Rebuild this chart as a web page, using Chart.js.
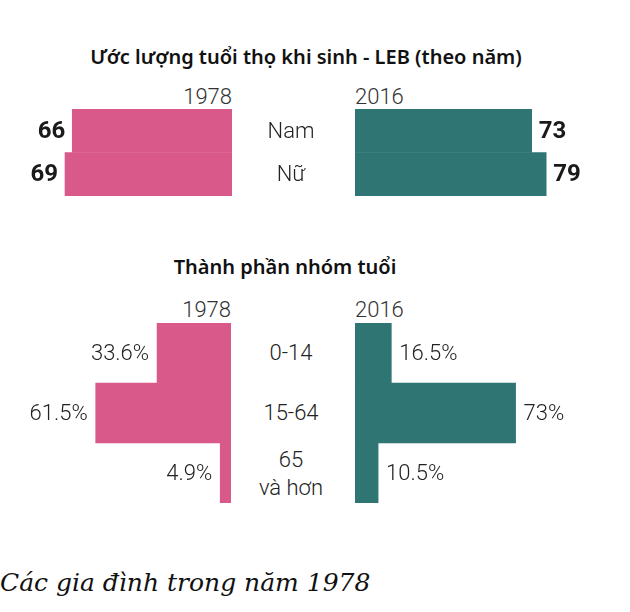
<!DOCTYPE html>
<html lang="vi">
<head>
    <meta charset="UTF-8">
    <title>Tuổi thọ và nhóm tuổi 1978 - 2016</title>
    <script src="https://cdn.jsdelivr.net/npm/chart.js"></script>
    <style>
        body { margin: 0; width: 630px; height: 612px; background: #fff; position: relative; overflow: hidden; font-family: Roboto, sans-serif; }
        canvas { position: absolute; }
        .txt { position: absolute; white-space: nowrap; transform: translateY(-50%); line-height: 1; }
        .title { font-family: "Noto Sans", sans-serif; font-weight: 600; font-size: 20px; color: #111; width: 630px; text-align: center; left: 0; }
        .year { font-weight: 300; font-size: 22px; color: #333; }
        .cat { font-weight: 300; font-size: 22px; color: #222; text-align: center; width: 120px; line-height: 1.25; }
        .note { font-family: "DejaVu Serif", serif; font-style: italic; font-size: 25px; color: #111; left: 0; }
    </style>
</head>
<body>
<div class="txt title" id="title1" style="top:57px; left:-9px;">Ước lượng tuổi thọ khi sinh - LEB (theo năm)</div>
<div class="txt title" id="title2" style="top:267px; left:-30px;">Thành phần nhóm tuổi</div>

<div class="txt year" style="top:97px; right:398px;">1978</div>
<div class="txt year" style="top:97px; left:355px;">2016</div>
<div class="txt year" style="top:310px; right:399px;">1978</div>
<div class="txt year" style="top:310px; left:355px;">2016</div>

<canvas id="leb1978" width="212" height="87" style="left:20px; top:109px;"></canvas>
<canvas id="leb2016" width="240" height="87" style="left:355px; top:109px;"></canvas>
<canvas id="age1978" width="221" height="180" style="left:10px; top:323px;"></canvas>
<canvas id="age2016" width="245" height="180" style="left:355px; top:323px;"></canvas>

<div class="txt note" style="top:582px;">Các gia đình trong năm 1978</div>

<script>
    // Tuổi thọ khi sinh (năm)
    const lebCategories = ['Nam', 'Nữ'];
    const leb1978 = [66, 69];
    const leb2016 = [73, 79];

    // Thành phần nhóm tuổi (%)
    const ageCategories = ['0-14', '15-64', '65\nvà hơn'];
    const age1978 = [33.6, 61.5, 4.9];
    const age2016 = [16.5, 73, 10.5];

    const pink = '#d95a8a';
    const teal = '#2e7573';

    // draws the value next to the end of each bar
    const valueLabels = {
        id: 'valueLabels',
        afterDatasetsDraw(chart, args, opts) {
            const ctx = chart.ctx;
            const meta = chart.getDatasetMeta(0);
            ctx.save();
            ctx.font = opts.font;
            ctx.fillStyle = opts.color;
            ctx.textBaseline = 'middle';
            meta.data.forEach((bar, i) => {
                const value = chart.data.datasets[0].data[i];
                const text = value + (opts.suffix || '');
                if (opts.side === 'left') {
                    ctx.textAlign = 'right';
                    ctx.fillText(text, bar.x - opts.gap, bar.y + 1);
                } else {
                    ctx.textAlign = 'left';
                    ctx.fillText(text, bar.x + opts.gap, bar.y + 1);
                }
            });
            ctx.restore();
        }
    };

    function makeChart(id, labels, values, color, reverse, xMax, labelOpts) {
        return new Chart(document.getElementById(id), {
            type: 'bar',
            data: {
                labels: labels,
                datasets: [{
                    data: values,
                    backgroundColor: color,
                    borderWidth: 0,
                    categoryPercentage: 1,
                    barPercentage: 1
                }]
            },
            options: {
                indexAxis: 'y',
                responsive: false,
                animation: false,
                layout: { padding: 0 },
                scales: {
                    x: { display: false, min: 0, max: xMax, reverse: reverse },
                    y: { display: false }
                },
                plugins: {
                    legend: { display: false },
                    tooltip: { enabled: false },
                    valueLabels: labelOpts
                }
            },
            plugins: [valueLabels]
        });
    }

    const boldFont = 'bold 24px Roboto';
    const lightFont = '300 22px Roboto';

    // 2.42 px per year, 2.2 px per percent
    makeChart('leb1978', lebCategories, leb1978, pink, true, 212 / 2.42,
        { side: 'left', gap: 7, font: boldFont, color: '#1a1a1a' });
    makeChart('leb2016', lebCategories, leb2016, teal, false, 240 / 2.42,
        { side: 'right', gap: 7, font: boldFont, color: '#1a1a1a' });
    makeChart('age1978', ageCategories, age1978, pink, true, 221 / 2.2,
        { side: 'left', gap: 8, font: lightFont, color: '#222', suffix: '%' });
    makeChart('age2016', ageCategories, age2016, teal, false, 245 / 2.2,
        { side: 'right', gap: 8, font: lightFont, color: '#222', suffix: '%' });

    // category names in the gap between the two years
    function addCategoryLabels(labels, top, bandHeight) {
        labels.forEach((name, i) => {
            const div = document.createElement('div');
            div.className = 'txt cat';
            div.style.left = (291 - 60) + 'px';
            div.style.top = (top + bandHeight * (i + 0.5)) + 'px';
            div.innerHTML = name.replace('\n', '<br>');
            document.body.appendChild(div);
        });
    }
    addCategoryLabels(lebCategories, 109, 43.5);
    addCategoryLabels(ageCategories, 323, 60);
</script>
</body>
</html>
